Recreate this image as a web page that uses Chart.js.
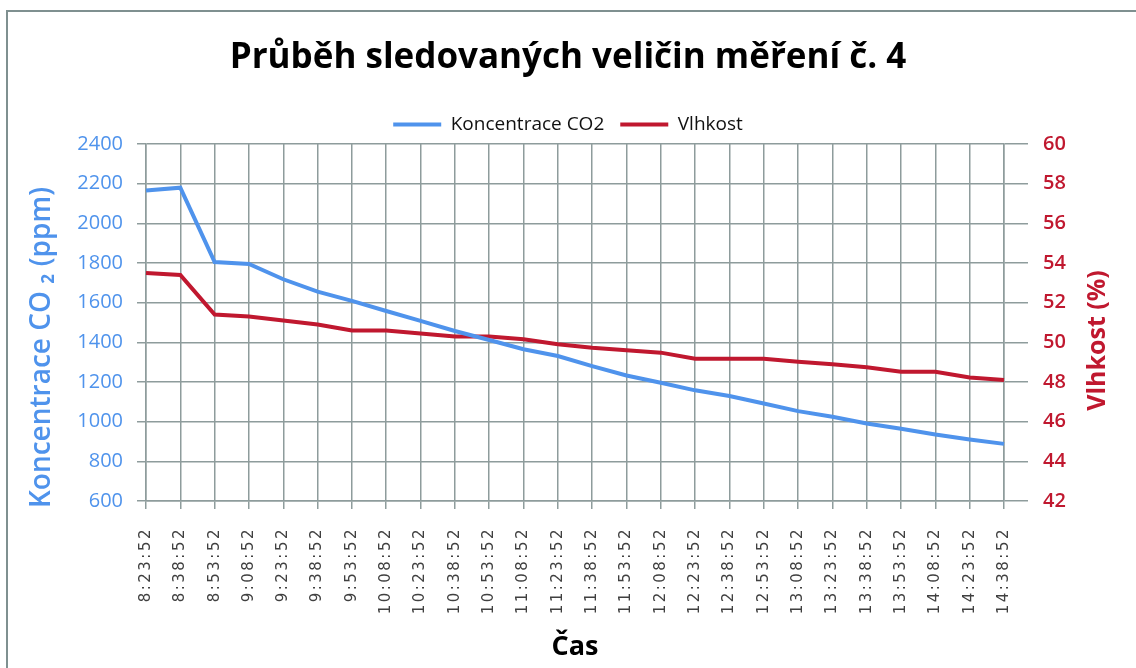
<!DOCTYPE html>
<html>
<head>
<meta charset="utf-8">
<script src="https://cdn.jsdelivr.net/npm/chart.js@4/dist/chart.umd.min.js"></script>
<style>
  html, body { margin: 0; padding: 0; background: #fff; }
  #wrap { width: 1136px; height: 668px; position: relative; }
</style>
</head>
<body>
<div id="wrap"><canvas id="myChart" width="1136" height="668"></canvas></div>
<script>
// casy mereni
let casy = ['8:23:52', '8:38:52', '8:53:52', '9:08:52', '9:23:52', '9:38:52', '9:53:52',
  '10:08:52', '10:23:52', '10:38:52', '10:53:52', '11:08:52', '11:23:52', '11:38:52',
  '11:53:52', '12:08:52', '12:23:52', '12:38:52', '12:53:52', '13:08:52', '13:23:52',
  '13:38:52', '13:53:52', '14:08:52', '14:23:52', '14:38:52'];

// koncentrace CO2 (ppm)
let co2 = [2165, 2180, 1805, 1795, 1718, 1656, 1609, 1558, 1508, 1457, 1412, 1365, 1331,
  1280, 1233, 1196, 1158, 1129, 1092, 1053, 1025, 991, 964, 935, 910, 888];

// vlhkost (%)
let vlhkost = [53.5, 53.4, 51.4, 51.3, 51.1, 50.9, 50.6, 50.6, 50.45, 50.3, 50.3, 50.15, 49.9,
  49.73, 49.6, 49.48, 49.17, 49.17, 49.17, 49.02, 48.89, 48.74, 48.52, 48.52, 48.23, 48.1];

// popisky os
let osaCO2 = 'Koncentrace CO ₂ (ppm)';
let osaVlhkost = 'Vlhkost (%)';

const modra = '#4F93EC';
const cervena = '#C0182F';
const mrizka = '#8E9C9C';
const pismo = "'Open Sans', sans-serif";

// ramecek (jen horni a leva cara) + svisle nazvy os
const ramecek = {
  id: 'ramecek',
  beforeDraw(chart) {
    const ctx = chart.ctx;
    ctx.save();
    ctx.fillStyle = '#fff';
    ctx.fillRect(0, 0, chart.width, chart.height);
    ctx.strokeStyle = '#7F9090';
    ctx.lineWidth = 2;
    ctx.beginPath();
    ctx.moveTo(chart.width, 11);
    ctx.lineTo(7, 11);
    ctx.lineTo(7, chart.height);
    ctx.stroke();
    ctx.restore();

    // popisky osy x s vetsim prostrkanim
    const sx = chart.scales.x;
    if (!sx._prostrkane) {
      const puvodni = sx.drawLabels;
      sx.drawLabels = function (area) {
        this.ctx.save();
        this.ctx.letterSpacing = '2.5px';
        puvodni.call(this, area);
        this.ctx.restore();
      };
      sx._prostrkane = true;
    }
  },
  afterDraw(chart) {
    const ctx = chart.ctx;
    const stred = (chart.chartArea.top + chart.chartArea.bottom) / 2;
    ctx.save();
    ctx.textAlign = 'center';
    ctx.textBaseline = 'middle';

    ctx.save();
    ctx.translate(42, stred + 25);
    ctx.rotate(-Math.PI / 2);
    ctx.fillStyle = modra;
    ctx.font = '600 28px ' + pismo;
    ctx.fillText(osaCO2, 0, 0);
    ctx.restore();

    ctx.save();
    ctx.translate(1098, stred + 18);
    ctx.rotate(-Math.PI / 2);
    ctx.fillStyle = cervena;
    ctx.font = 'bold 25px ' + pismo;
    ctx.fillText(osaVlhkost, 0, 0);
    ctx.restore();

    ctx.restore();
  }
};

const ctx = document.getElementById('myChart').getContext('2d');
window.graf = new Chart(ctx, {
  type: 'line',
  data: {
    labels: casy,
    datasets: [{
      label: 'Koncentrace CO2',
      data: co2,
      borderColor: modra,
      backgroundColor: modra,
      borderWidth: 4,
      pointRadius: 0,
      tension: 0,
      yAxisID: 'y'
    }, {
      label: 'Vlhkost',
      data: vlhkost,
      borderColor: cervena,
      backgroundColor: cervena,
      borderWidth: 4,
      pointRadius: 0,
      tension: 0,
      yAxisID: 'y1'
    }]
  },
  options: {
    responsive: false,
    animation: false,
    layout: { padding: { left: 0, right: 0, top: 0, bottom: 0 } },
    plugins: {
      title: {
        display: true,
        text: 'Průběh sledovaných veličin měření č. 4',
        color: '#000',
        font: { family: pismo, size: 35, weight: 'bold' },
        padding: { top: 37, bottom: 20 }
      },
      legend: {
        position: 'top',
        labels: {
          usePointStyle: true,
          pointStyle: 'line',
          pointStyleWidth: 48,
          color: '#111',
          font: { family: pismo, size: 19 },
          padding: 16
        }
      },
      tooltip: { enabled: false }
    },
    scales: {
      x: {
        offset: false,
        grid: { color: mrizka, lineWidth: 1.5, tickLength: 8, drawTicks: true },
        border: { color: mrizka, width: 1.5 },
        ticks: {
          color: '#404040',
          font: { family: "'DejaVu Sans', sans-serif", size: 15 },
          minRotation: 90,
          maxRotation: 90,
          autoSkip: false,
          padding: 18
        },
        title: {
          display: true,
          text: 'Čas',
          color: '#000',
          font: { family: pismo, size: 27, weight: 'bold' },
          padding: { top: 0, bottom: 4 }
        },
        afterFit(scale) { scale.height = 167; }
      },
      y: {
        position: 'left',
        min: 600,
        max: 2400,
        grid: { color: mrizka, lineWidth: 1.5, tickLength: 9 },
        border: { color: mrizka, width: 1.5 },
        ticks: {
          stepSize: 200,
          color: modra,
          font: { family: pismo, size: 20 },
          padding: 14,
          callback: (v) => String(v)
        },
        afterFit(scale) { scale.width = 146; }
      },
      y1: {
        position: 'right',
        min: 42,
        max: 60,
        grid: { drawOnChartArea: false, color: mrizka, lineWidth: 1.5, tickLength: 24 },
        border: { color: mrizka, width: 1.5 },
        ticks: {
          stepSize: 2,
          color: cervena,
          font: { family: pismo, size: 20, weight: '600' },
          padding: 15,
          callback: (v) => String(v)
        },
        afterFit(scale) { scale.width = 132; }
      }
    }
  },
  plugins: [ramecek]
});
</script>
</body>
</html>
